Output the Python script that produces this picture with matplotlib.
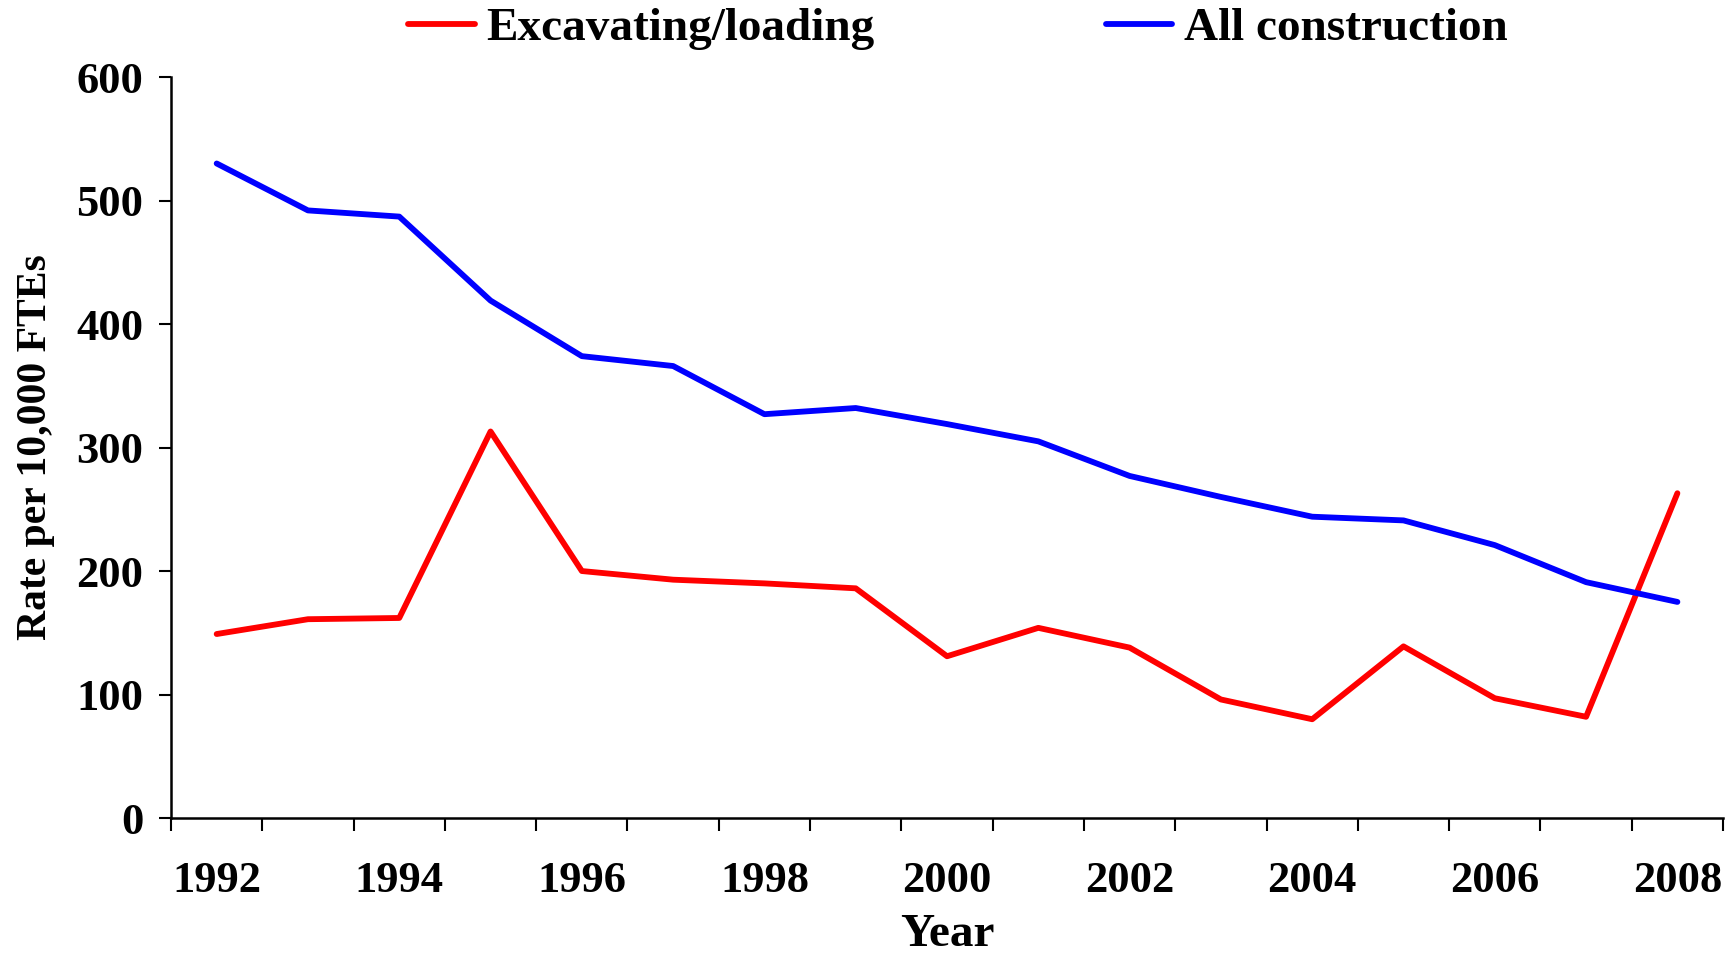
import numpy as np
import matplotlib.pyplot as plt
from matplotlib.ticker import FixedLocator

years = list(range(1992, 2009))
excavating = [149, 161, 162, 313, 200, 193, 190, 186, 131, 154, 138, 96, 80, 139, 97, 82, 263]
all_construction = [530, 492, 487, 419, 374, 366, 327, 332, 319, 305, 277, 260, 244, 241, 221, 191, 175]

plt.rcParams['font.family'] = ['Liberation Serif', 'DejaVu Serif']
plt.rcParams['font.weight'] = 'bold'

fig = plt.figure(figsize=(17.31, 9.57), dpi=100)
ax = fig.add_axes([0.0988, 0.1452, 0.8966, 0.7743])

x = np.arange(len(years))
ax.plot(x, excavating, color='#FF0000', lw=4.2, label='Excavating/loading', solid_capstyle='round')
ax.plot(x, all_construction, color='#0000FF', lw=4.2, label='All construction', solid_capstyle='round')

ax.set_xlim(-0.5, len(years) - 0.5)
ax.set_ylim(0, 600)
ax.set_yticks(range(0, 601, 100))

# year labels on every other category, tick marks on category borders
ax.set_xticks(x[::2])
ax.set_xticklabels([str(y) for y in years[::2]])
ax.xaxis.set_minor_locator(FixedLocator(np.arange(-0.5, len(years), 1.0)))
ax.tick_params(axis='x', which='major', length=0, pad=31, labelsize=32)
ax.tick_params(axis='x', which='minor', length=9, width=1.5, direction='out')
ax.tick_params(axis='y', length=9, width=1.5, pad=11, labelsize=32)

for s in ['top', 'right']:
    ax.spines[s].set_visible(False)
for s in ['left', 'bottom']:
    ax.spines[s].set_linewidth(1.8)

ax.set_xlabel('Year', fontsize=34, fontweight='bold')
ax.set_ylabel('Rate per 10,000 FTEs', fontsize=30, fontweight='bold')
ax.xaxis.set_label_coords(0.5, -0.130)
ax.yaxis.set_label_coords(-0.075, 0.5)

fig.legend(loc='center', bbox_to_anchor=(0.5535, 0.97), ncol=2, frameon=False,
           fontsize=34, handlelength=1.4, handletextpad=0.25, columnspacing=4.9)

fig.savefig('out.png', dpi=100)
